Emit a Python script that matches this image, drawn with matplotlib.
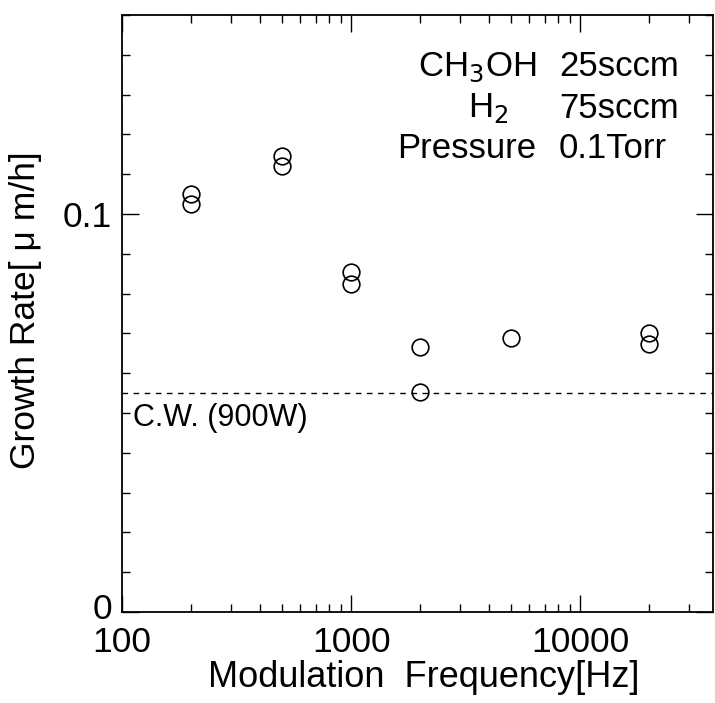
import numpy as np
import matplotlib
matplotlib.use("Agg")
import matplotlib.pyplot as plt
from matplotlib.ticker import FixedLocator, NullFormatter
from matplotlib.transforms import ScaledTranslation

# values
freq_hz = [200, 200, 500, 500, 1000, 1000, 2000, 2000, 5000, 20000, 20000]
growth_rate = [0.105, 0.1025, 0.1145, 0.112, 0.0855, 0.0825, 0.0665, 0.0552, 0.0688, 0.0700, 0.0673]
cw_rate = 0.0549
x_ticks = [100, 1000, 10000]
x_ticklabels = ["100", "1000", "10000"]
y_ticks = [0.0, 0.1]
y_ticklabels = ["0", "0.1"]
cond_names = ["CH$_3$OH", "H$_2$", "Pressure"]
cond_values = ["25sccm", "75sccm", "0.1Torr"]

plt.rcParams["font.family"] = ["Liberation Sans", "DejaVu Sans"]

W, H = 715, 703
fig = plt.figure(figsize=(W / 100, H / 100), dpi=100)
ax = fig.add_axes([122 / W, 1 - 612 / H, 591 / W, 597 / H])

ax.plot(freq_hz, growth_rate, linestyle="none", marker="o", markersize=12,
        markerfacecolor="none", markeredgecolor="black", markeredgewidth=1.2)
ax.axhline(cw_rate, color="black", linewidth=1.0, linestyle=(0, (4, 4)))

ax.set_xscale("log")
ax.set_xlim(100, 38000)
ax.set_ylim(0, 0.15)

ax.xaxis.set_major_locator(FixedLocator(x_ticks))
ax.set_xticklabels(x_ticklabels)
minor_x = [m * d for d in (100, 1000, 10000) for m in range(2, 10) if m * d < 38000]
ax.xaxis.set_minor_locator(FixedLocator(minor_x))
ax.xaxis.set_minor_formatter(NullFormatter())

ax.yaxis.set_major_locator(FixedLocator(y_ticks))
ax.set_yticklabels(y_ticklabels)
ax.yaxis.set_minor_locator(FixedLocator(np.arange(0, 0.151, 0.01)))

ax.tick_params(which="both", direction="in", top=True, right=True, width=1.0,
               labelsize=25.5)
ax.tick_params(axis="x", which="major", pad=10)
ax.tick_params(axis="y", which="major", pad=7)
ax.tick_params(which="major", length=12)
ax.tick_params(which="minor", length=6)
for sp in ax.spines.values():
    sp.set_linewidth(1.3)

# the "0" sits a bit above the corner, clear of "100"
zero_lbl = ax.yaxis.get_major_ticks()[0].label1
zero_lbl.set_transform(zero_lbl.get_transform() + ScaledTranslation(0, 6 / 100, fig.dpi_scale_trans))

ax.set_xlabel("Modulation  Frequency[Hz]", fontsize=26, va="top")
ax.xaxis.set_label_coords(0.51, -0.080)
ax.set_ylabel("Growth Rate[ \u03bc m/h]", fontsize=25.5)
ax.yaxis.set_label_coords(-0.135, 0.505)

# condition block, upper right
rows_y = [67, 108, 149]
for name, val, y in zip(cond_names, cond_values, rows_y):
    if name.startswith("H"):
        fig.text(468 / W, 1 - y / H, name, fontsize=25, ha="left", va="center")
    else:
        fig.text(536 / W, 1 - y / H, name, fontsize=25, ha="right", va="center")
    fig.text(559 / W, 1 - y / H, val, fontsize=25, ha="left", va="center")

ax.text(0.018, cw_rate - 0.0025, "C.W. (900W)", transform=ax.get_yaxis_transform(),
        fontsize=22, ha="left", va="top")

fig.savefig("out.png", dpi=100)
